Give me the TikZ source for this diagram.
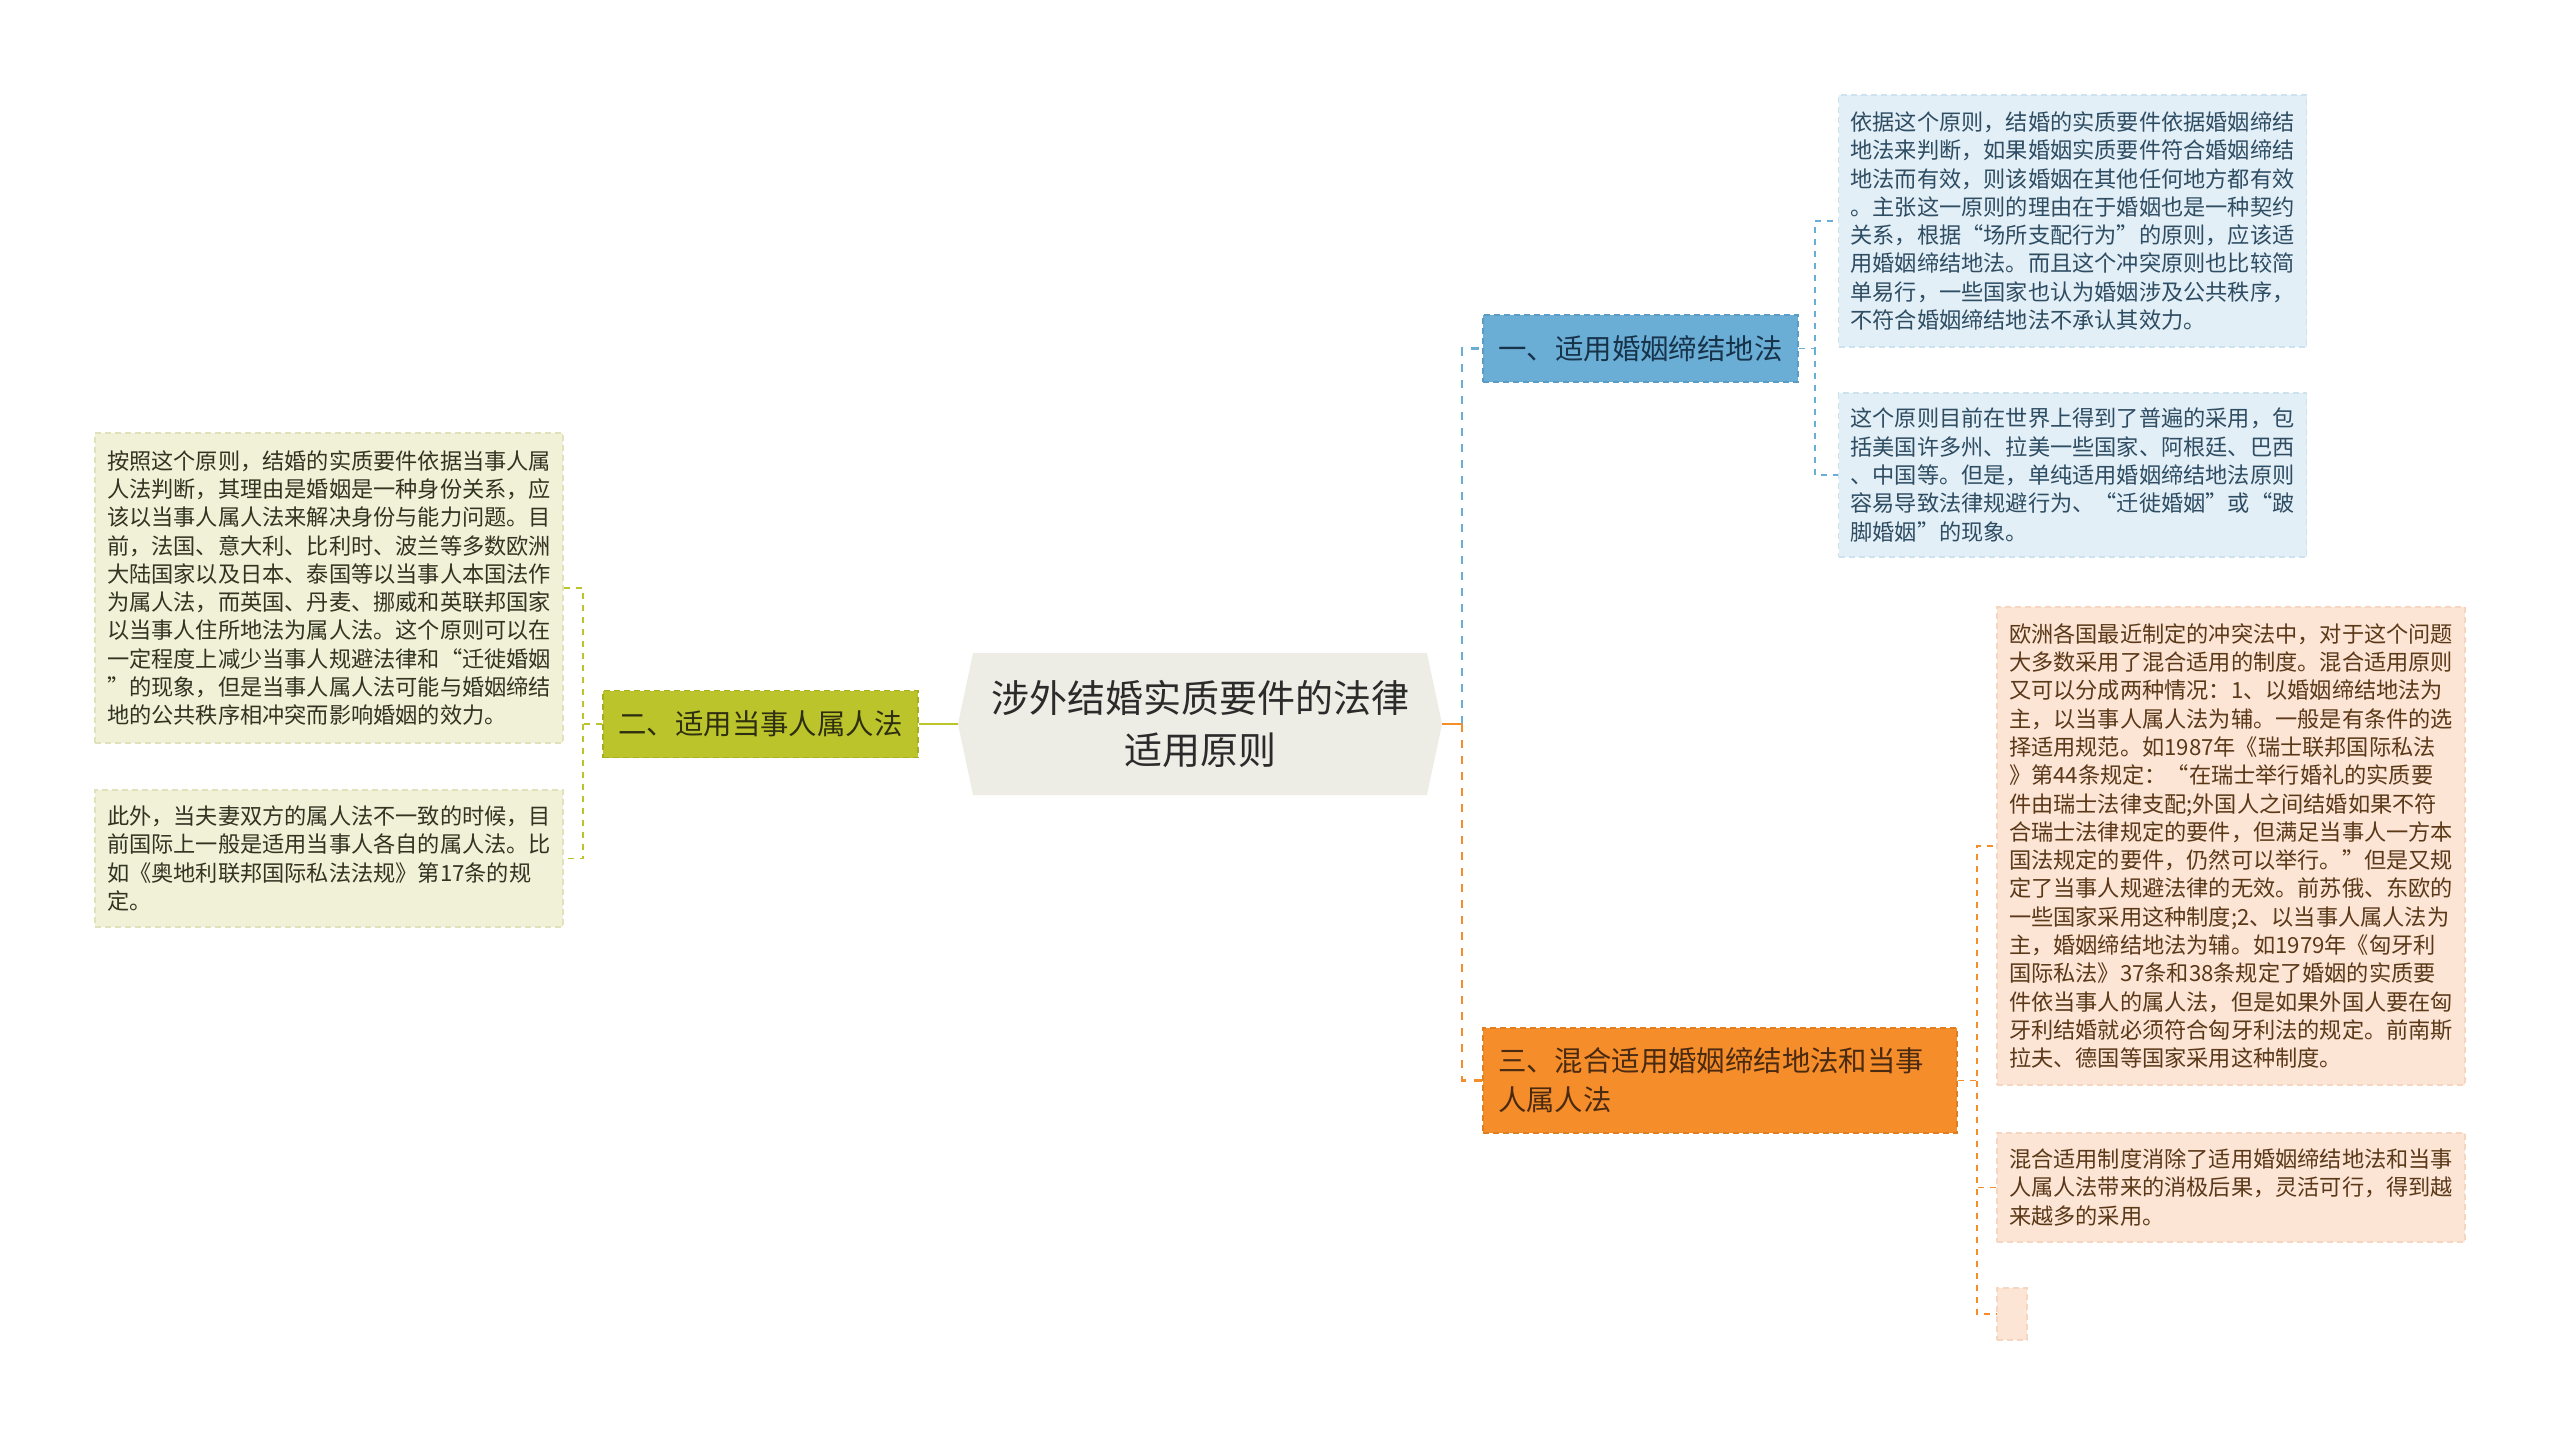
\documentclass[tikz,border=0pt]{standalone}
\usepackage{fontspec}
\setmainfont{Noto Sans CJK SC}
\usetikzlibrary{shapes.symbols, positioning}

\definecolor{rootfill}{HTML}{EDEDE5}
\definecolor{rootink}{HTML}{2B2B2B}
\definecolor{bluefill}{HTML}{6AAED6}
\definecolor{blueline}{HTML}{5A9CC6}
\definecolor{blueink}{HTML}{17334A}
\definecolor{bluepale}{HTML}{E2EFF7}
\definecolor{bluepaleline}{HTML}{CDE2EF}
\definecolor{bluetext}{HTML}{2E4C62}
\definecolor{orangefill}{HTML}{F58D2B}
\definecolor{orangeline}{HTML}{E07E22}
\definecolor{orangeink}{HTML}{4A2A10}
\definecolor{orangepale}{HTML}{FCE5D5}
\definecolor{orangepaleline}{HTML}{F6D6C0}
\definecolor{orangetext}{HTML}{5A3818}
\definecolor{greenfill}{HTML}{BCC42B}
\definecolor{greenline}{HTML}{A6AE1E}
\definecolor{greenink}{HTML}{2E2E10}
\definecolor{greenpale}{HTML}{F0F1D6}
\definecolor{greenpaleline}{HTML}{E0E2BC}
\definecolor{greentext}{HTML}{333322}

\tikzstyle{rootnode} = [signal, signal to=west and east, signal pointer angle=156, fill=rootfill, minimum width=242pt, minimum height=71pt, inner sep=0pt, align=center, text=rootink, font=\fontsize{19}{26}\selectfont]
\tikzstyle{topic}    = [dash pattern=on 3pt off 2pt, line width=0.7pt, inner sep=0pt, minimum width=157.5pt, minimum height=33.5pt, align=center, font=\fontsize{14.2}{19.5}\selectfont]
\tikzstyle{leaf}     = [dash pattern=on 3pt off 2pt, line width=0.6pt, inner xsep=6pt, inner ysep=0pt, text width=222pt, align=left, font=\fontsize{11.1}{14.15}\selectfont]
\tikzstyle{trunk}    = [line width=1.4pt]
\tikzstyle{branch}   = [line width=1.4pt, dash pattern=on 4pt off 4pt]
\tikzstyle{twig}     = [line width=0.7pt, dash pattern=on 3pt off 3pt]

\begin{document}
\begin{tikzpicture}[x=0.5pt, y=-0.5pt]

\fill[white] (0,0) rectangle (2560,1435);
\useasboundingbox (0,0) rectangle (2560,1435);

% root
\node[rootnode] (R) at (1200,724) {涉外结婚实质要件的法律\\适用原则};

% main topics
\node[topic, fill=bluefill, draw=blueline, text=blueink] (T1) at (1640.5,348.5) {一、适用婚姻缔结地法};
\node[topic, fill=greenfill, draw=greenline, text=greenink] (T2) at (760.5,724) {二、适用当事人属人法};
\node[topic, fill=orangefill, draw=orangeline, text=orangeink, minimum width=237pt, minimum height=52.5pt, text width=222pt, inner xsep=7.5pt, align=left] (T3) at (1720,1080.5) {三、混合适用婚姻缔结地法和当事\\人属人法};

% leaves of topic 1
\node[leaf, fill=bluepale, draw=bluepaleline, text=bluetext, minimum height=126pt] (L11) at (2072.5,221) {依据这个原则，结婚的实质要件依据婚姻缔结\\地法来判断，如果婚姻实质要件符合婚姻缔结\\地法而有效，则该婚姻在其他任何地方都有效\\。主张这一原则的理由在于婚姻也是一种契约\\关系，根据“场所支配行为”的原则，应该适\\用婚姻缔结地法。而且这个冲突原则也比较简\\单易行，一些国家也认为婚姻涉及公共秩序，\\不符合婚姻缔结地法不承认其效力。};
\node[leaf, fill=bluepale, draw=bluepaleline, text=bluetext, minimum height=82pt] (L12) at (2072.5,475) {这个原则目前在世界上得到了普遍的采用，包\\括美国许多州、拉美一些国家、阿根廷、巴西\\、中国等。但是，单纯适用婚姻缔结地法原则\\容易导致法律规避行为、“迁徙婚姻”或“跛\\脚婚姻”的现象。};

% leaves of topic 2
\node[leaf, fill=greenpale, draw=greenpaleline, text=greentext, minimum height=155pt] (L21) at (329,588) {按照这个原则，结婚的实质要件依据当事人属\\人法判断，其理由是婚姻是一种身份关系，应\\该以当事人属人法来解决身份与能力问题。目\\前，法国、意大利、比利时、波兰等多数欧洲\\大陆国家以及日本、泰国等以当事人本国法作\\为属人法，而英国、丹麦、挪威和英联邦国家\\以当事人住所地法为属人法。这个原则可以在\\一定程度上减少当事人规避法律和“迁徙婚姻\\”的现象，但是当事人属人法可能与婚姻缔结\\地的公共秩序相冲突而影响婚姻的效力。};
\node[leaf, fill=greenpale, draw=greenpaleline, text=greentext, minimum height=68.5pt] (L22) at (329,858.5) {此外，当夫妻双方的属人法不一致的时候，目\\前国际上一般是适用当事人各自的属人法。比\\如《奥地利联邦国际私法法规》第17条的规\\定。};

% leaves of topic 3
\node[leaf, fill=orangepale, draw=orangepaleline, text=orangetext, minimum height=239pt] (L31) at (2231,846) {欧洲各国最近制定的冲突法中，对于这个问题\\大多数采用了混合适用的制度。混合适用原则\\又可以分成两种情况：1、以婚姻缔结地法为\\主，以当事人属人法为辅。一般是有条件的选\\择适用规范。如1987年《瑞士联邦国际私法\\》第44条规定：“在瑞士举行婚礼的实质要\\件由瑞士法律支配;外国人之间结婚如果不符\\合瑞士法律规定的要件，但满足当事人一方本\\国法规定的要件，仍然可以举行。”但是又规\\定了当事人规避法律的无效。前苏俄、东欧的\\一些国家采用这种制度;2、以当事人属人法为\\主，婚姻缔结地法为辅。如1979年《匈牙利\\国际私法》37条和38条规定了婚姻的实质要\\件依当事人的属人法，但是如果外国人要在匈\\牙利结婚就必须符合匈牙利法的规定。前南斯\\拉夫、德国等国家采用这种制度。};
\node[leaf, fill=orangepale, draw=orangepaleline, text=orangetext, minimum height=54.5pt] (L32) at (2231,1187.5) {混合适用制度消除了适用婚姻缔结地法和当事\\人属人法带来的消极后果，灵活可行，得到越\\来越多的采用。};
\node[dash pattern=on 3pt off 2pt, line width=0.6pt, fill=orangepale, draw=orangepaleline, inner sep=0pt, minimum width=15pt, minimum height=26pt] (L33) at (2012,1314) {};

% junctions
\coordinate (JR) at (1462,724);
\coordinate (J1) at (1815,348.5);
\coordinate (J2) at (583,724);
\coordinate (J3) at (1977,1080.5);

% root to topics
\draw[branch, bluefill] (JR) |- (T1.west);
\draw[branch, orangefill] (JR) |- (T3.west);
\draw[trunk, orangefill] (R.east) -- (JR);
\draw[trunk, greenfill] (R.west) -- (T2.east);

% topics to leaves
\draw[twig, bluefill] (T1.east) -- (J1) |- (L11.west);
\draw[twig, bluefill] (J1) |- (L12.west);

\draw[twig, greenfill] (T2.west) -- (J2) |- (L21.east);
\draw[twig, greenfill] (J2) |- (L22.east);

\draw[twig, orangefill] (T3.east) -- (J3) |- (L31.west);
\draw[twig, orangefill] (J3) |- (L32.west);
\draw[twig, orangefill] (J3) |- (L33.west);

\end{tikzpicture}
\end{document}
